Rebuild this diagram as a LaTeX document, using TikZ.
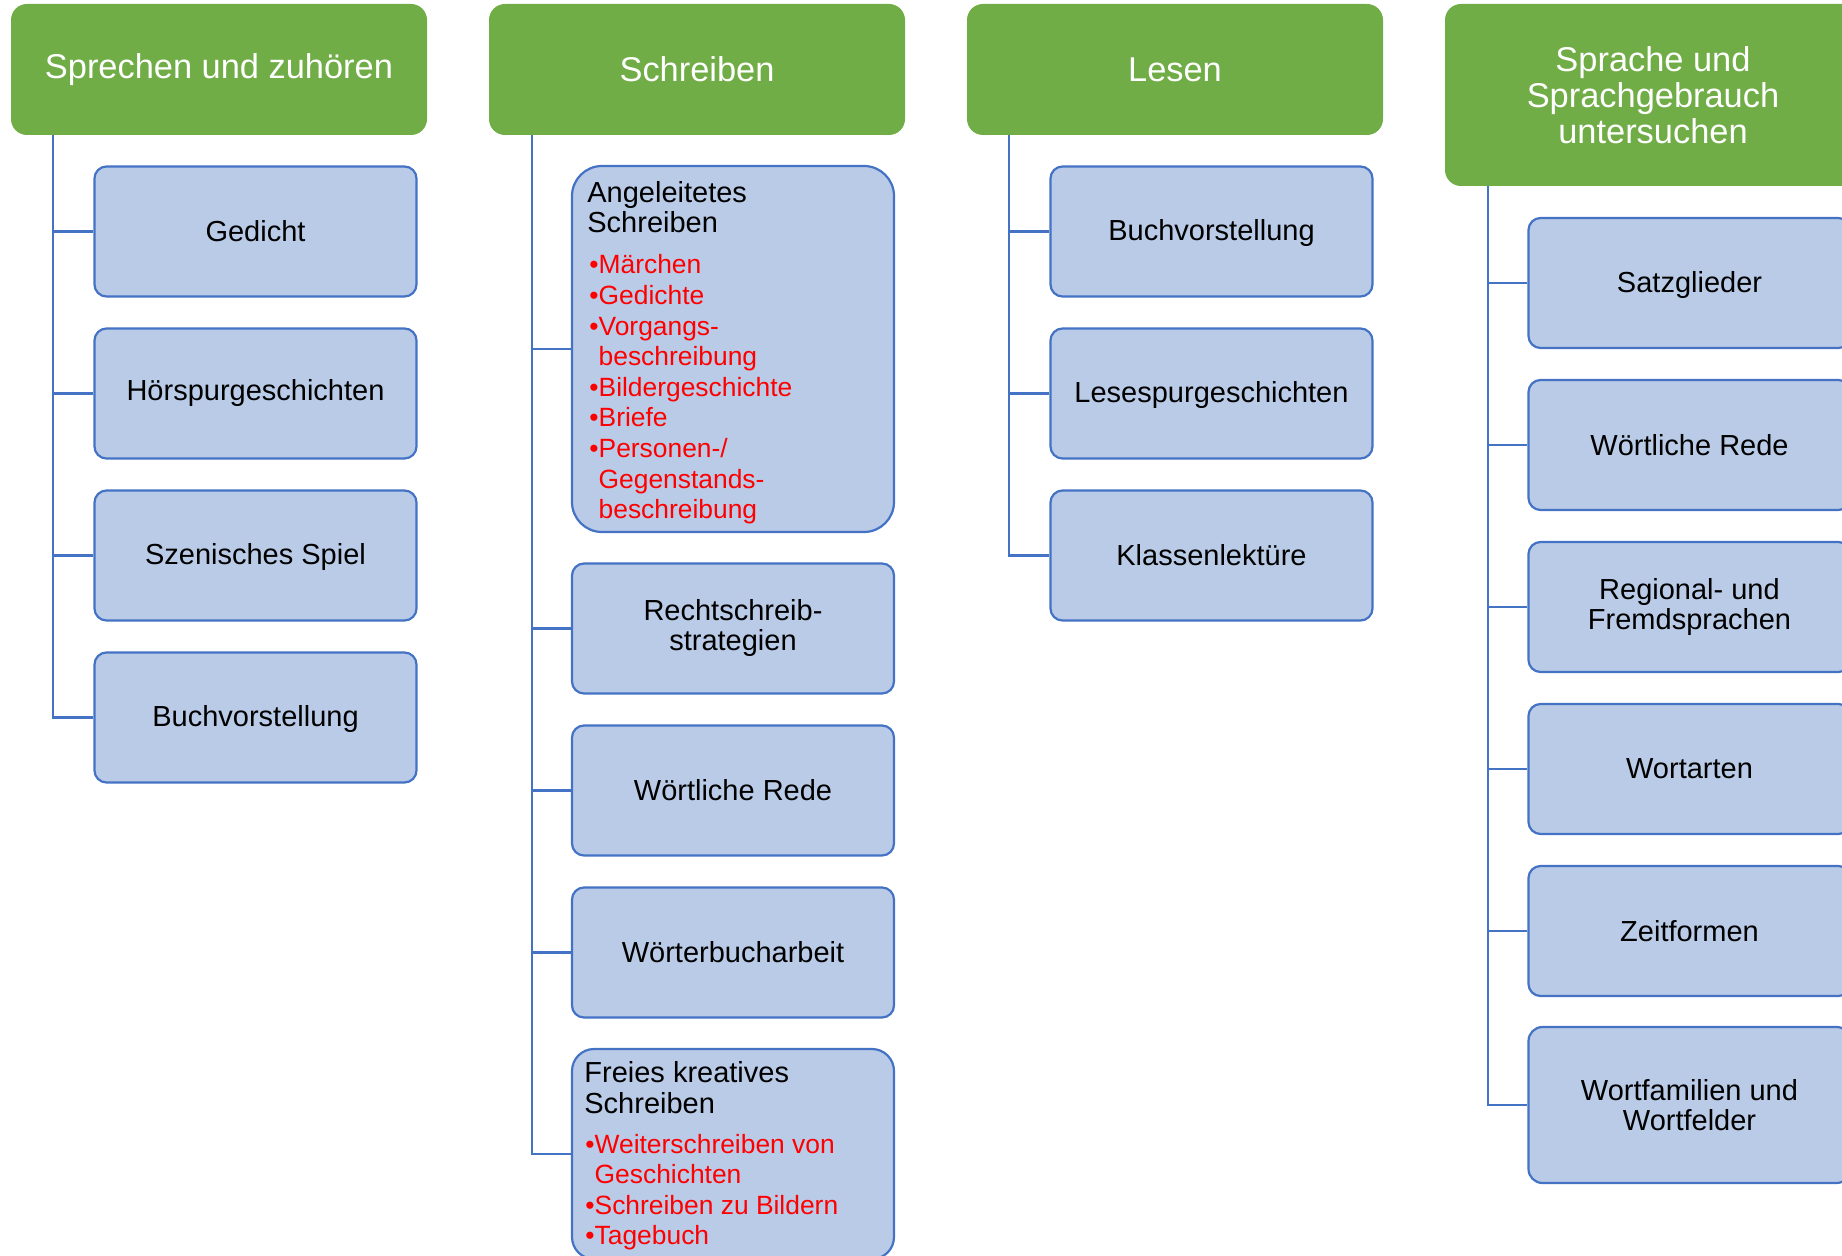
\documentclass[tikz,border=0pt]{standalone}
\usepackage{fontspec}
\setmainfont{Liberation Sans}
\definecolor{hgreen}{HTML}{70AD47}
\definecolor{bfill}{HTML}{B9CBE7}
\definecolor{bline}{HTML}{4472C4}
\definecolor{rtext}{HTML}{FF0000}
\begin{document}
\begin{tikzpicture}[x=0.5pt,y=-0.5pt,
  header/.style={fill=hgreen, draw=none, rounded corners=8pt, minimum width=208pt,
    minimum height=65.5pt, text=white, font=\fontsize{17.2}{18}\selectfont, align=center, inner sep=0pt},
  itembox/.style={fill=bfill, draw=bline, line width=1.1pt, rounded corners=6pt,
    minimum width=161pt, minimum height=65pt, font=\fontsize{14.5}{15}\selectfont, align=center, inner sep=0pt},
  oneline/.style={text height=10.6pt, text depth=1.3pt},
  conn/.style={draw=bline, line width=1.1pt},
  titletext/.style={anchor=base west, align=left, inner sep=0pt, font=\fontsize{14.5}{15.25}\selectfont},
  listtext/.style={anchor=base west, align=left, inner sep=0pt, text=rtext, font=\fontsize{13.2}{15.3}\selectfont}
]
\useasboundingbox (0,0) rectangle (1842,1256);
\clip (0,0) rectangle (1842,1256);

% headers
\node[header] (h1) at (219,69.5) {Sprechen und zuhören};
\node[header] (h2) at (697,69.5) {Schreiben};
\node[header] (h3) at (1175,69.5) {Lesen};
\node[header, minimum height=91pt] (h4) at (1653,95) {Sprache und\\Sprachgebrauch\\untersuchen};

% column 1
\node[itembox] (a1) at (255.5,231.5) {Gedicht};
\node[itembox] (a2) at (255.5,393.5) {Hörspurgeschichten};
\node[itembox, oneline] (a3) at (255.5,555.5) {Szenisches Spiel};
\node[itembox, oneline] (a4) at (255.5,717.5) {Buchvorstellung};

% column 2
\node[itembox, minimum height=183pt, rounded corners=15pt] (b1) at (733,349) {};
\node[titletext] (b1t) at (587,233) {Angeleitetes\\Schreiben};
\node[listtext] (b1l) at (589,518.8) {•Märchen\\•Gedichte\\•Vorgangs-\\\phantom{•}beschreibung\\•Bildergeschichte\\•Briefe\\•Personen-/\\\phantom{•}Gegenstands-\\\phantom{•}beschreibung};
\node[itembox] (b2) at (733,628.5) {Rechtschreib-\\strategien};
\node[itembox] (b3) at (733,790.5) {Wörtliche Rede};
\node[itembox] (b4) at (733,952.5) {Wörterbucharbeit};
\node[itembox, minimum height=105pt, rounded corners=11pt] (b5) at (733,1154) {};
\node[titletext] (b5t) at (584,1113) {Freies kreatives\\Schreiben};
\node[listtext] (b5l) at (585,1244.8) {•Weiterschreiben von\\\phantom{•}Geschichten\\•Schreiben zu Bildern\\•Tagebuch};

% column 3
\node[itembox, oneline] (c1) at (1211.5,231.5) {Buchvorstellung};
\node[itembox, oneline] (c2) at (1211.5,393.5) {Lesespurgeschichten};
\node[itembox] (c3) at (1211.5,555.5) {Klassenlektüre};

% column 4
\node[itembox, oneline] (d1) at (1689.5,283) {Satzglieder};
\node[itembox] (d2) at (1689.5,445) {Wörtliche Rede};
\node[itembox] (d3) at (1689.5,607) {Regional- und\\Fremdsprachen};
\node[itembox] (d4) at (1689.5,769) {Wortarten};
\node[itembox] (d5) at (1689.5,931) {Zeitformen};
\node[itembox, minimum height=78pt, rounded corners=7pt] (d6) at (1689.5,1105) {Wortfamilien und\\Wortfelder};

% connector roots
\coordinate (k1) at (53,135);
\coordinate (k2) at (532,135);
\coordinate (k3) at (1009,135);
\coordinate (k4) at (1488,186);

\draw[conn] (k1) |- (a4.west);
\foreach \n in {a1,a2,a3} \draw[conn] (\n.west) -- (\n.west -| k1);
\draw[conn] (k2) |- (b5.west);
\foreach \n in {b1,b2,b3,b4} \draw[conn] (\n.west) -- (\n.west -| k2);
\draw[conn] (k3) |- (c3.west);
\foreach \n in {c1,c2} \draw[conn] (\n.west) -- (\n.west -| k3);
\draw[conn] (k4) |- (d6.west);
\foreach \n in {d1,d2,d3,d4,d5} \draw[conn] (\n.west) -- (\n.west -| k4);
\end{tikzpicture}
\end{document}
